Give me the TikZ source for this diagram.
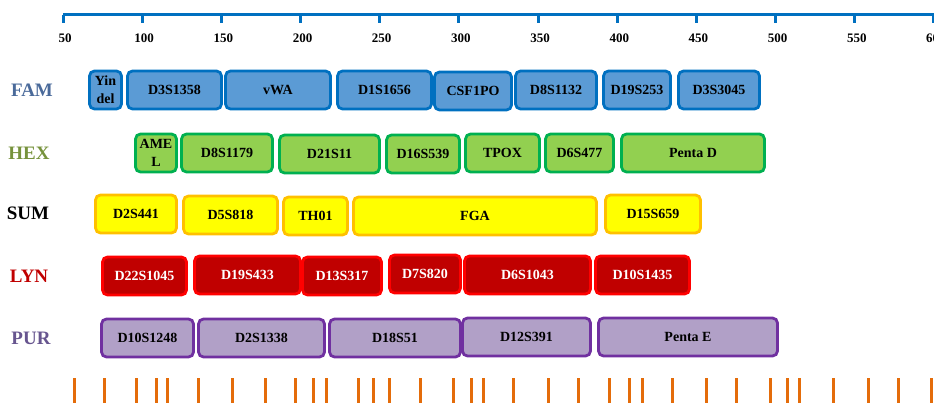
\documentclass[tikz,border=0pt]{standalone}
\usepackage{fontspec}
\setmainfont{Liberation Serif}
\usepackage{xcolor}
\definecolor{cAxis}{HTML}{0070C0}
\definecolor{cTick}{HTML}{E46C0A}
\definecolor{cFamFill}{HTML}{5B9BD5}
\definecolor{cFamLine}{HTML}{0070C0}
\definecolor{cFamText}{HTML}{4A6A9A}
\definecolor{cHexFill}{HTML}{92D050}
\definecolor{cHexLine}{HTML}{00B050}
\definecolor{cHexText}{HTML}{76923C}
\definecolor{cSumFill}{HTML}{FFFF00}
\definecolor{cSumLine}{HTML}{FFC000}
\definecolor{cLynFill}{HTML}{C00000}
\definecolor{cLynLine}{HTML}{FF0000}
\definecolor{cLynText}{HTML}{C00000}
\definecolor{cPurFill}{HTML}{B1A0C7}
\definecolor{cPurLine}{HTML}{7030A0}
\definecolor{cPurText}{HTML}{67558F}
\usepackage{tikz}
\usetikzlibrary{positioning}
\tikzset{
  locus/.style={line width=2.8pt,rounded corners=5pt,inner sep=0pt,
    minimum height=38pt,align=center,
    font=\fontsize{14}{18}\selectfont\bfseries},
  locus-fam/.style={locus,draw=cFamLine,fill=cFamFill},
  locus-hex/.style={locus,draw=cHexLine,fill=cHexFill},
  locus-sum/.style={locus,draw=cSumLine,fill=cSumFill},
  locus-lyn/.style={locus,draw=cLynLine,fill=cLynFill,text=white},
  locus-pur/.style={locus,draw=cPurLine,fill=cPurFill},
  dye/.style={font=\fontsize{19}{19}\selectfont\bfseries},
  scale-label/.style={font=\fontsize{13}{13}\selectfont\bfseries},
  axis-line/.style={line width=3pt,draw=cAxis},
  marker/.style={line width=3pt,draw=cTick},
}

\begin{document}
\begin{tikzpicture}[x=1pt,y=-1pt]
  \useasboundingbox (0,0) rectangle (934,403);
  % size scale
  \coordinate (axis-start) at (63,15);
  \coordinate (axis-end) at (934,15);
  \draw[axis-line] (axis-start) -- (axis-end);
  \foreach \v in {50,100,...,600}{
    \draw[axis-line] ({63+(\v-50)*1.5836},15) -- ({63+(\v-50)*1.5836},23);
    \node[scale-label] (lbl\v) at ({65+(\v-50)*1.5836},38) {\v};
  }
  % dyes
  \node[dye,text=cFamText] (fam) at (32,90) {FAM};
  \node[dye,text=cHexText] (hex) at (29,153) {HEX};
  \node[dye,text=black] (sum) at (28,213) {SUM};
  \node[dye,text=cLynText] (lyn) at (29,276) {LYN};
  \node[dye,text=cPurText] (pur) at (31,338) {PUR};
  % FAM
  \node[locus-fam,minimum width=32pt] (yindel) at (105.5,90) {Yin\\del};
  \node[locus-fam,minimum width=94pt] (d3s1358) at (174.5,90) {D3S1358};
  \node[locus-fam,minimum width=105pt] (vwa) at (278,90) {vWA};
  \node[locus-fam,minimum width=94pt] (d1s1656) at (384.5,90) {D1S1656};
  \node[locus-fam,minimum width=77pt] (csf1po) at (473,91) {CSF1PO};
  \node[locus-fam,minimum width=81pt] (d8s1132) at (556,90) {D8S1132};
  \node[locus-fam,minimum width=67pt] (d19s253) at (637,90) {D19S253};
  \node[locus-fam,minimum width=81pt] (d3s3045) at (719,90) {D3S3045};
  % HEX
  \node[locus-hex,minimum width=41pt] (amel) at (156,153) {AME\\L};
  \node[locus-hex,minimum width=91pt] (d8s1179) at (227,153) {D8S1179};
  \node[locus-hex,minimum width=100pt] (d21s11) at (329.5,154) {D21S11};
  \node[locus-hex,minimum width=73pt] (d16s539) at (423,154) {D16S539};
  \node[locus-hex,minimum width=74pt] (tpox) at (502.5,153) {TPOX};
  \node[locus-hex,minimum width=68pt] (d6s477) at (579.5,153) {D6S477};
  \node[locus-hex,minimum width=143pt] (pentad) at (693,153) {Penta D};
  % SUM
  \node[locus-sum,minimum width=81pt] (d2s441) at (136,214) {D2S441};
  \node[locus-sum,minimum width=94pt] (d5s818) at (230.5,215) {D5S818};
  \node[locus-sum,minimum width=64pt] (th01) at (315.5,216) {TH01};
  \node[locus-sum,minimum width=243pt] (fga) at (475,216) {FGA};
  \node[locus-sum,minimum width=95pt] (d15s659) at (653,214) {D15S659};
  % LYN
  \node[locus-lyn,minimum width=84pt] (d22s1045) at (144.5,276) {D22S1045};
  \node[locus-lyn,minimum width=106pt] (d19s433) at (247.5,275) {D19S433};
  \node[locus-lyn,minimum width=79pt] (d13s317) at (342,276) {D13S317};
  \node[locus-lyn,minimum width=71pt] (d7s820) at (425,274) {D7S820};
  \node[locus-lyn,minimum width=126pt] (d6s1043) at (527.5,275) {D6S1043};
  \node[locus-lyn,minimum width=94pt] (d10s1435) at (642.5,275) {D10S1435};
  % PUR
  \node[locus-pur,minimum width=92pt] (d10s1248) at (147.5,338) {D10S1248};
  \node[locus-pur,minimum width=126pt] (d2s1338) at (261.5,338) {D2S1338};
  \node[locus-pur,minimum width=131pt] (d18s51) at (395,338) {D18S51};
  \node[locus-pur,minimum width=128pt] (d12s391) at (526.5,337) {D12S391};
  \node[locus-pur,minimum width=179pt] (pentae) at (688,337) {Penta E};
  % marker peaks
  \foreach \x in {74,104,136,156,167,198,232,265,295,313,326,358,373,389,
    420,453,471,483,513,548,578,609,629,642,672,706,736,770,787,799,833,
    868,898,931}
    \draw[marker] (\x,378) -- (\x,403);
\end{tikzpicture}
\end{document}
